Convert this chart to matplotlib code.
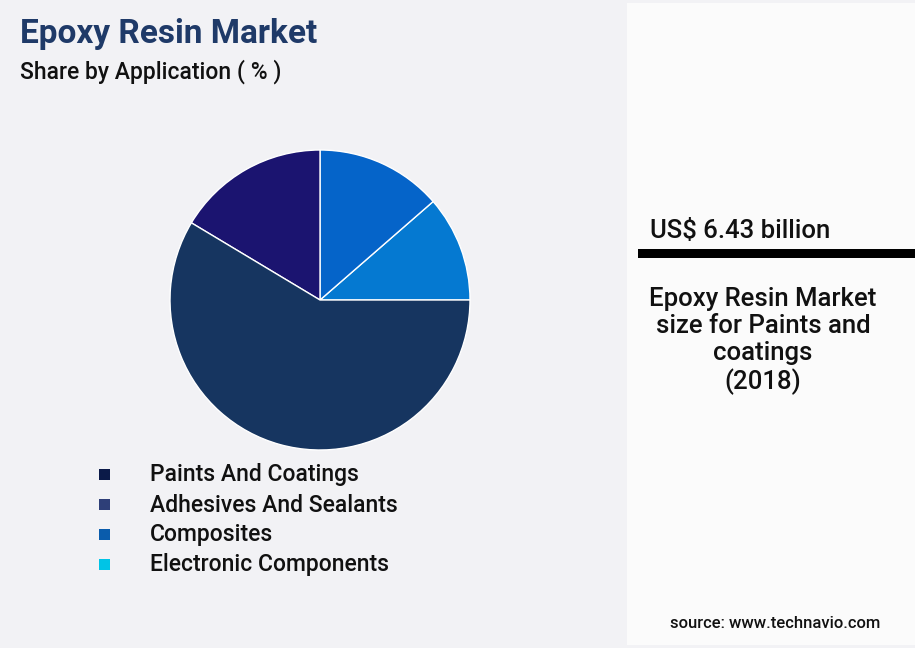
import matplotlib.pyplot as plt
from matplotlib.patches import Rectangle

plt.rcParams['font.family'] = ['Roboto', 'DejaVu Sans']

# data (legend order)
categories = ["Paints And Coatings", "Adhesives And Sealants", "Composites", "Electronic Components"]
shares = [58.6, 16.4, 13.6, 11.4]
pieColors = ["#163560", "#1b1470", "#0564c9", "#0579d1"]
legendColors = ["#0b1a48", "#2e3f78", "#0a5cac", "#00c4e6"]

W, H = 915, 648
fig = plt.figure(figsize=(W / 100, H / 100), dpi=100)
fig.patch.set_facecolor("#f2f2f5")

# right panel
fig.patches.append(Rectangle((627 / W, 3 / H), (W - 627) / W, 642 / H, transform=fig.transFigure,
                             facecolor="#fbfbfb", edgecolor="none", zorder=0))

fig.text(20 / W, 1 - 34 / H, "Epoxy Resin Market", fontsize=24, fontweight="bold",
         color="#1f3a68", va="center")
fig.text(20 / W, 1 - 72 / H, "Share by Application ( % )", fontsize=16.5, fontweight="medium",
         color="#111111", va="center")

ax = fig.add_axes([170 / W, (H - 450) / H, 300 / W, 300 / H])
ax.pie(shares[::-1], colors=pieColors[::-1], startangle=0, counterclock=True,
       wedgeprops=dict(edgecolor="white", linewidth=1))
ax.set_xlim(-1.0, 1.0)
ax.set_ylim(-1.0, 1.0)
ax.set_aspect("equal")

for i, (cat, col) in enumerate(zip(categories, legendColors)):
    y = 1 - (475 + 30 * i) / H
    fig.patches.append(Rectangle((99 / W, y - 5 / H), 11 / W, 11 / H, transform=fig.transFigure,
                                 facecolor=col, edgecolor="none"))
    fig.text(150 / W, y, cat, fontsize=16.5, fontweight="medium", color="#111111", va="center")

fig.text(650 / W, 1 - 231 / H, "US$ 6.43 billion", fontsize=18.5, fontweight="medium",
         color="#111111", va="center")
fig.patches.append(Rectangle((638 / W, 1 - 258 / H), (W - 638) / W, 9 / H, transform=fig.transFigure,
                             facecolor="black", edgecolor="none"))
fig.text(763 / W, 1 - 341 / H, "Epoxy Resin Market\nsize for Paints and\ncoatings\n(2018)",
         fontsize=18.5, fontweight="medium", color="#111111", ha="center", va="center",
         linespacing=1.15)
fig.text(880 / W, 1 - 624 / H, "source: www.technavio.com", fontsize=12, fontweight="medium",
         color="#111111", ha="right", va="center")

fig.savefig("out.png", dpi=100, facecolor=fig.get_facecolor())
